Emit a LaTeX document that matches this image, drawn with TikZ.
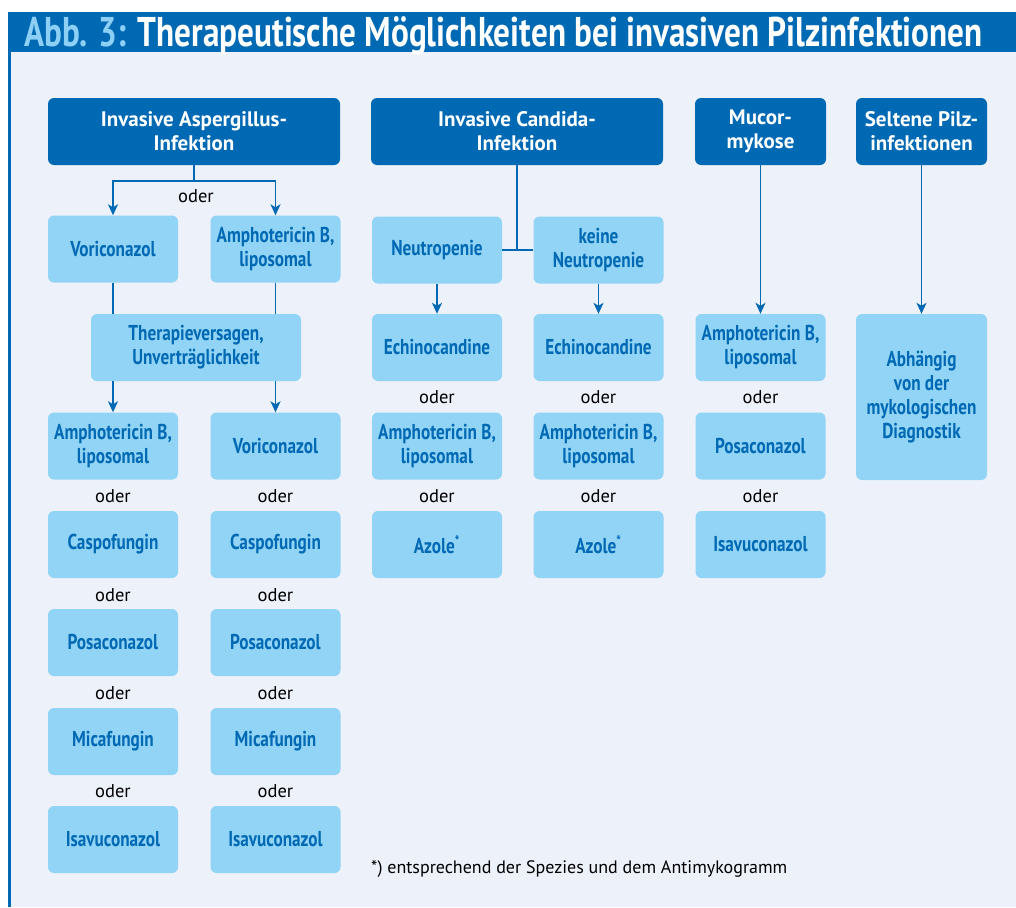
\documentclass[tikz,border=0pt]{standalone}
\usepackage{fontspec}
\setmainfont{PT Sans}
\newfontfamily\condb[FakeStretch=0.80]{PT Sans Bold}
\newfontfamily\headb{PT Sans Bold}
\newfontfamily\normf{PT Sans}
\usetikzlibrary{arrows.meta}
\definecolor{darkb}{HTML}{0069B4}
\definecolor{lightb}{HTML}{92D4F5}
\definecolor{bgc}{HTML}{EDF1FA}
\definecolor{titlelb}{HTML}{8ED0F5}
\tikzset{
  hbox/.style={fill=darkb, rounded corners=6pt, minimum height=67pt, inner sep=0pt, align=center, text=white, font=\headb\fontsize{21}{24}\selectfont},
  lbox/.style={fill=lightb, rounded corners=6pt, minimum width=130pt, minimum height=67pt, inner sep=0pt, align=center, text=darkb, font=\condb\fontsize{21.5}{24}\selectfont},
  odertxt/.style={inner sep=0pt, font=\normf\fontsize{18.5}{20}\selectfont, text=black},
  conn/.style={draw=darkb, line width=1.5pt},
  arr/.style={conn, -{Stealth[length=11pt,width=10pt,inset=3pt]}}
}
\begin{document}
\begin{tikzpicture}[x=1pt,y=-1pt]
\useasboundingbox (0,0) rectangle (1016,907);
\fill[white] (0,0) rectangle (1016,907);
\fill[bgc] (8,52) rectangle (1016,907);
\fill[darkb] (8,12) rectangle (1016,52);
\fill[darkb] (8,52) rectangle (11,907);
\node[anchor=base west, inner sep=0pt, font=\condb\fontsize{41.5}{44}\selectfont] (title) at (24,46)
  {\textcolor{titlelb}{Abb. 3:} \textcolor{white}{Therapeutische Möglichkeiten bei invasiven Pilzinfektionen}};

% header boxes
\node[hbox, minimum width=292pt] (A) at (194,131.5) {Invasive Aspergillus-\\Infektion};
\node[hbox, minimum width=292pt] (C) at (517,131.5) {Invasive Candida-\\Infektion};
\node[hbox, minimum width=131pt] (M) at (760.5,131.5) {Mucor-\\mykose};
\node[hbox, minimum width=131pt] (S) at (921.5,131.5) {Seltene Pilz-\\infektionen};

% Aspergillus
\node[lbox] (a1) at (113,249) {Voriconazol};
\node[lbox] (b1) at (275.5,249) {Amphotericin B,\\liposomal};
\node[lbox, minimum width=210pt] (T) at (196,347.5) {Therapieversagen,\\Unverträglichkeit};
\node[lbox] (a2) at (113,446) {Amphotericin B,\\liposomal};
\node[lbox] (a3) at (113,544.5) {Caspofungin};
\node[lbox] (a4) at (113,642.5) {Posaconazol};
\node[lbox] (a5) at (113,741.5) {Micafungin};
\node[lbox] (a6) at (113,839.5) {Isavuconazol};
\node[lbox] (b2) at (275.5,446) {Voriconazol};
\node[lbox] (b3) at (275.5,544.5) {Caspofungin};
\node[lbox] (b4) at (275.5,642.5) {Posaconazol};
\node[lbox] (b5) at (275.5,741.5) {Micafungin};
\node[lbox] (b6) at (275.5,839.5) {Isavuconazol};
\coordinate (asp) at (194,181);
\node[odertxt] (oA) at (196,196) {oder};
\draw[conn] (A.south) -- (asp);
\draw[arr] (asp) -| (a1.north);
\draw[arr] (asp) -| (b1.north);
\draw[conn] (a1.south) -- (a1.south |- T.north);
\draw[conn] (b1.south) -- (b1.south |- T.north);
\draw[arr] (T.south -| a2.north) -- (a2.north);
\draw[arr] (T.south -| b2.north) -- (b2.north);
\foreach \y/\n in {496/1,595/2,693/3,791/4}{
  \node[odertxt] (oa\n) at (113,\y) {oder};
  \node[odertxt] (ob\n) at (275.5,\y) {oder};
}

% Candida
\node[lbox] (n1) at (437,250) {Neutropenie};
\node[lbox] (k1) at (598.5,250) {keine\\Neutropenie};
\node[lbox] (n2) at (437,347.5) {Echinocandine};
\node[lbox] (n3) at (437,446) {Amphotericin B,\\liposomal};
\node[lbox] (n4) at (437,544.5) {Azole\textsuperscript{*}};
\node[lbox] (k2) at (598.5,347.5) {Echinocandine};
\node[lbox] (k3) at (598.5,446) {Amphotericin B,\\liposomal};
\node[lbox] (k4) at (598.5,544.5) {Azole\textsuperscript{*}};
\draw[conn] (C.south) -- (C.south |- n1.east);
\draw[conn] (n1.east) -- (k1.west);
\draw[arr] (n1.south) -- (n2.north);
\draw[arr] (k1.south) -- (k2.north);
\foreach \y/\n in {397/1,496/2}{
  \node[odertxt] (on\n) at (437,\y) {oder};
  \node[odertxt] (ok\n) at (598.5,\y) {oder};
}

% Mucor
\node[lbox] (m1) at (760.5,347.5) {Amphotericin B,\\liposomal};
\node[lbox] (m2) at (760.5,446) {Posaconazol};
\node[lbox] (m3) at (760.5,544.5) {Isavuconazol};
\draw[arr] (M.south) -- (m1.north);
\node[odertxt] (om1) at (760.5,397) {oder};
\node[odertxt] (om2) at (760.5,496) {oder};

% Seltene
\node[lbox, minimum width=131pt, minimum height=166pt] (s1) at (921.5,397) {Abhängig\\von der\\mykologischen\\Diagnostik};
\draw[arr] (S.south) -- (s1.north);

\node[anchor=base west, inner sep=0pt, font=\normf\fontsize{18}{20}\selectfont] (foot) at (371,873) {*) entsprechend der Spezies und dem Antimykogramm};
\end{tikzpicture}
\end{document}
